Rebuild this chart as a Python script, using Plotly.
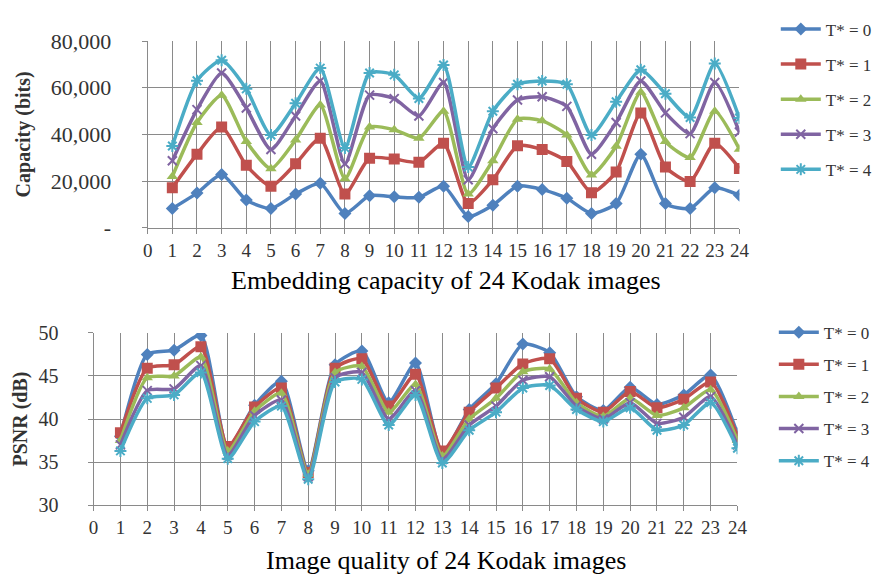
import plotly.graph_objects as go

images = list(range(1, 25))

cap_t0 = [8200, 14800, 22800, 11800, 8200, 14400, 19000, 6100, 13700, 13200, 13000, 17800,
          4800, 9600, 17800, 16400, 12600, 6100, 10300, 31500, 10300, 8200, 17100, 13900]
cap_t1 = [17100, 31500, 43100, 26700, 17800, 27400, 38300, 14400, 29800, 29400, 28000, 36200,
          10300, 20500, 35100, 33500, 28400, 15000, 23900, 49200, 26000, 19800, 36200, 25400]
cap_t2 = [21900, 45100, 56800, 36900, 25300, 37600, 52600, 21000, 43100, 42000, 38300, 49900,
          14400, 28700, 46500, 45800, 39700, 22600, 34900, 58100, 36900, 30100, 49900, 33600]
cap_t3 = [28700, 50600, 66300, 51300, 33500, 47900, 62900, 27400, 56800, 55300, 47900, 62200,
          20500, 42400, 54700, 56100, 52000, 31500, 45100, 62900, 49200, 40300, 62200, 41000]
cap_t4 = [35000, 63000, 71800, 59500, 39700, 53300, 68400, 34200, 66300, 65500, 55400, 69700,
          26000, 49900, 61500, 62900, 61500, 39700, 54000, 67700, 57400, 47200, 70400, 47000]

psnr_t0 = [38.0, 47.5, 48.0, 49.7, 36.6, 41.6, 44.4, 34.0, 46.3, 47.9, 41.9, 46.5,
           36.0, 41.1, 44.1, 48.7, 47.7, 42.6, 41.0, 43.7, 41.7, 42.8, 45.1, 38.3]
psnr_t1 = [38.4, 45.9, 46.3, 48.4, 36.8, 41.4, 43.6, 33.8, 45.9, 47.0, 41.5, 45.2,
           36.3, 40.8, 43.6, 46.4, 47.0, 42.4, 40.8, 43.2, 41.3, 42.3, 44.3, 38.0]
psnr_t2 = [37.5, 44.8, 45.0, 47.2, 36.3, 40.9, 43.0, 33.6, 45.4, 46.1, 40.8, 44.0,
           35.7, 40.0, 42.4, 45.5, 45.8, 41.9, 40.3, 42.4, 40.4, 41.3, 43.4, 37.5]
psnr_t3 = [37.0, 43.3, 43.5, 46.2, 35.8, 40.4, 42.2, 33.3, 44.8, 45.4, 40.0, 43.3,
           35.3, 39.3, 41.5, 44.5, 44.9, 41.5, 40.0, 41.9, 39.5, 40.2, 42.6, 37.0]
psnr_t4 = [36.3, 42.4, 42.8, 45.4, 35.4, 39.7, 41.5, 33.0, 44.3, 44.6, 39.3, 42.8,
           34.9, 38.7, 40.8, 43.6, 43.9, 41.1, 39.7, 41.3, 38.7, 39.3, 41.9, 36.6]

series_names = ["T* = 0", "T* = 1", "T* = 2", "T* = 3", "T* = 4"]
x_ticks = list(range(0, 25))
cap_tickvals = [0, 20000, 40000, 60000, 80000]
cap_ticktext = ["-", "20,000", "40,000", "60,000", "80,000"]
psnr_tickvals = [30, 35, 40, 45, 50]

colors = ["#4F81BD", "#C0504D", "#9BBB59", "#8064A2", "#4BACC6"]
symbols = ["diamond", "square", "triangle-up", "x-thin-open", "asterisk-open"]
msizes = [10, 11, 10, 9, 10]

SERIF = "Liberation Serif"

fig = go.Figure()

cap_all = [cap_t0, cap_t1, cap_t2, cap_t3, cap_t4]
psnr_all = [psnr_t0, psnr_t1, psnr_t2, psnr_t3, psnr_t4]


def marker_for(i):
    m = dict(symbol=symbols[i], size=msizes[i], color=colors[i])
    if "open" in symbols[i]:
        m["line"] = dict(color=colors[i], width=2)
    else:
        m["line"] = dict(width=0)
    return m


for i in range(5):
    fig.add_trace(go.Scatter(
        x=images, y=cap_all[i], name=series_names[i], mode="lines+markers",
        line=dict(color=colors[i], width=3.5, shape="spline", smoothing=0.6),
        marker=marker_for(i), xaxis="x", yaxis="y", legend="legend",
        legendgroup="a%d" % i,
    ))

for i in range(5):
    fig.add_trace(go.Scatter(
        x=images, y=psnr_all[i], name=series_names[i], mode="lines+markers",
        line=dict(color=colors[i], width=3.5, shape="spline", smoothing=0.6),
        marker=marker_for(i), xaxis="x2", yaxis="y2", legend="legend2",
        legendgroup="b%d" % i,
    ))

W, H = 881, 580
grid_col = "#8a8a8a"
tickfont = dict(family=SERIF, size=19, color="#333333")

common_x = dict(range=[0, 24], tickvals=x_ticks, ticktext=[str(v) for v in x_ticks],
                showgrid=True, gridcolor=grid_col, gridwidth=1.2,
                ticks="outside", ticklen=5, tickcolor=grid_col,
                showline=True, linecolor=grid_col, linewidth=1.2,
                zeroline=False, tickfont=tickfont, fixedrange=True)
common_y = dict(showgrid=True, gridcolor=grid_col, gridwidth=1.2,
                ticks="outside", ticklen=5, tickcolor=grid_col,
                showline=True, linecolor=grid_col, linewidth=1.2,
                zeroline=False, fixedrange=True)

fig.update_layout(
    width=W, height=H,
    margin=dict(l=0, r=0, t=0, b=0),
    paper_bgcolor="white", plot_bgcolor="white",
    font=dict(family=SERIF, color="#222222"),
    xaxis=dict(domain=[137 / W, 739 / W], anchor="y", **common_x),
    yaxis=dict(domain=[(H - 217) / H, (H - 22) / H], anchor="x", range=[0, 80000],
               tickvals=cap_tickvals, ticktext=cap_ticktext,
               tickfont=dict(family=SERIF, size=22, color="#333333"),
               ticklabelstandoff=26,
               title=dict(text="<b>Capacity (bits)</b>",
                          font=dict(family=SERIF, size=20, color="#333333"),
                          standoff=14),
               **common_y),
    xaxis2=dict(domain=[82 / W, 737 / W], anchor="y2", **common_x),
    yaxis2=dict(domain=[(H - 507) / H, (H - 327) / H], anchor="x2", range=[30, 50],
                tickvals=psnr_tickvals,
                tickfont=dict(family=SERIF, size=20, color="#333333"),
                ticklabelstandoff=25,
                title=dict(text="<b>PSNR (dB)</b>",
                           font=dict(family=SERIF, size=20, color="#333333"),
                           standoff=5),
                **common_y),
    legend=dict(x=776 / W, y=(H + 9) / H, xanchor="left", yanchor="top",
                font=dict(family=SERIF, size=17, color="#333333"),
                tracegroupgap=10, bgcolor="rgba(0,0,0,0)", itemwidth=40),
    legend2=dict(x=774 / W, y=(H - 308) / H, xanchor="left", yanchor="top",
                 font=dict(family=SERIF, size=17, color="#333333"),
                 tracegroupgap=7, bgcolor="rgba(0,0,0,0)", itemwidth=40),
    showlegend=True,
    annotations=[
        dict(text="Embedding capacity of 24 Kodak images", x=440 / W, y=(H - 272) / H,
             xref="paper", yref="paper", showarrow=False, xanchor="center", yanchor="middle",
             font=dict(family=SERIF, size=26, color="#000000")),
        dict(text="Image quality of 24 Kodak images", x=440 / W, y=(H - 565) / H,
             xref="paper", yref="paper", showarrow=False, xanchor="center", yanchor="middle",
             font=dict(family=SERIF, size=26, color="#000000")),
    ],
)

fig.write_html("out.html")
